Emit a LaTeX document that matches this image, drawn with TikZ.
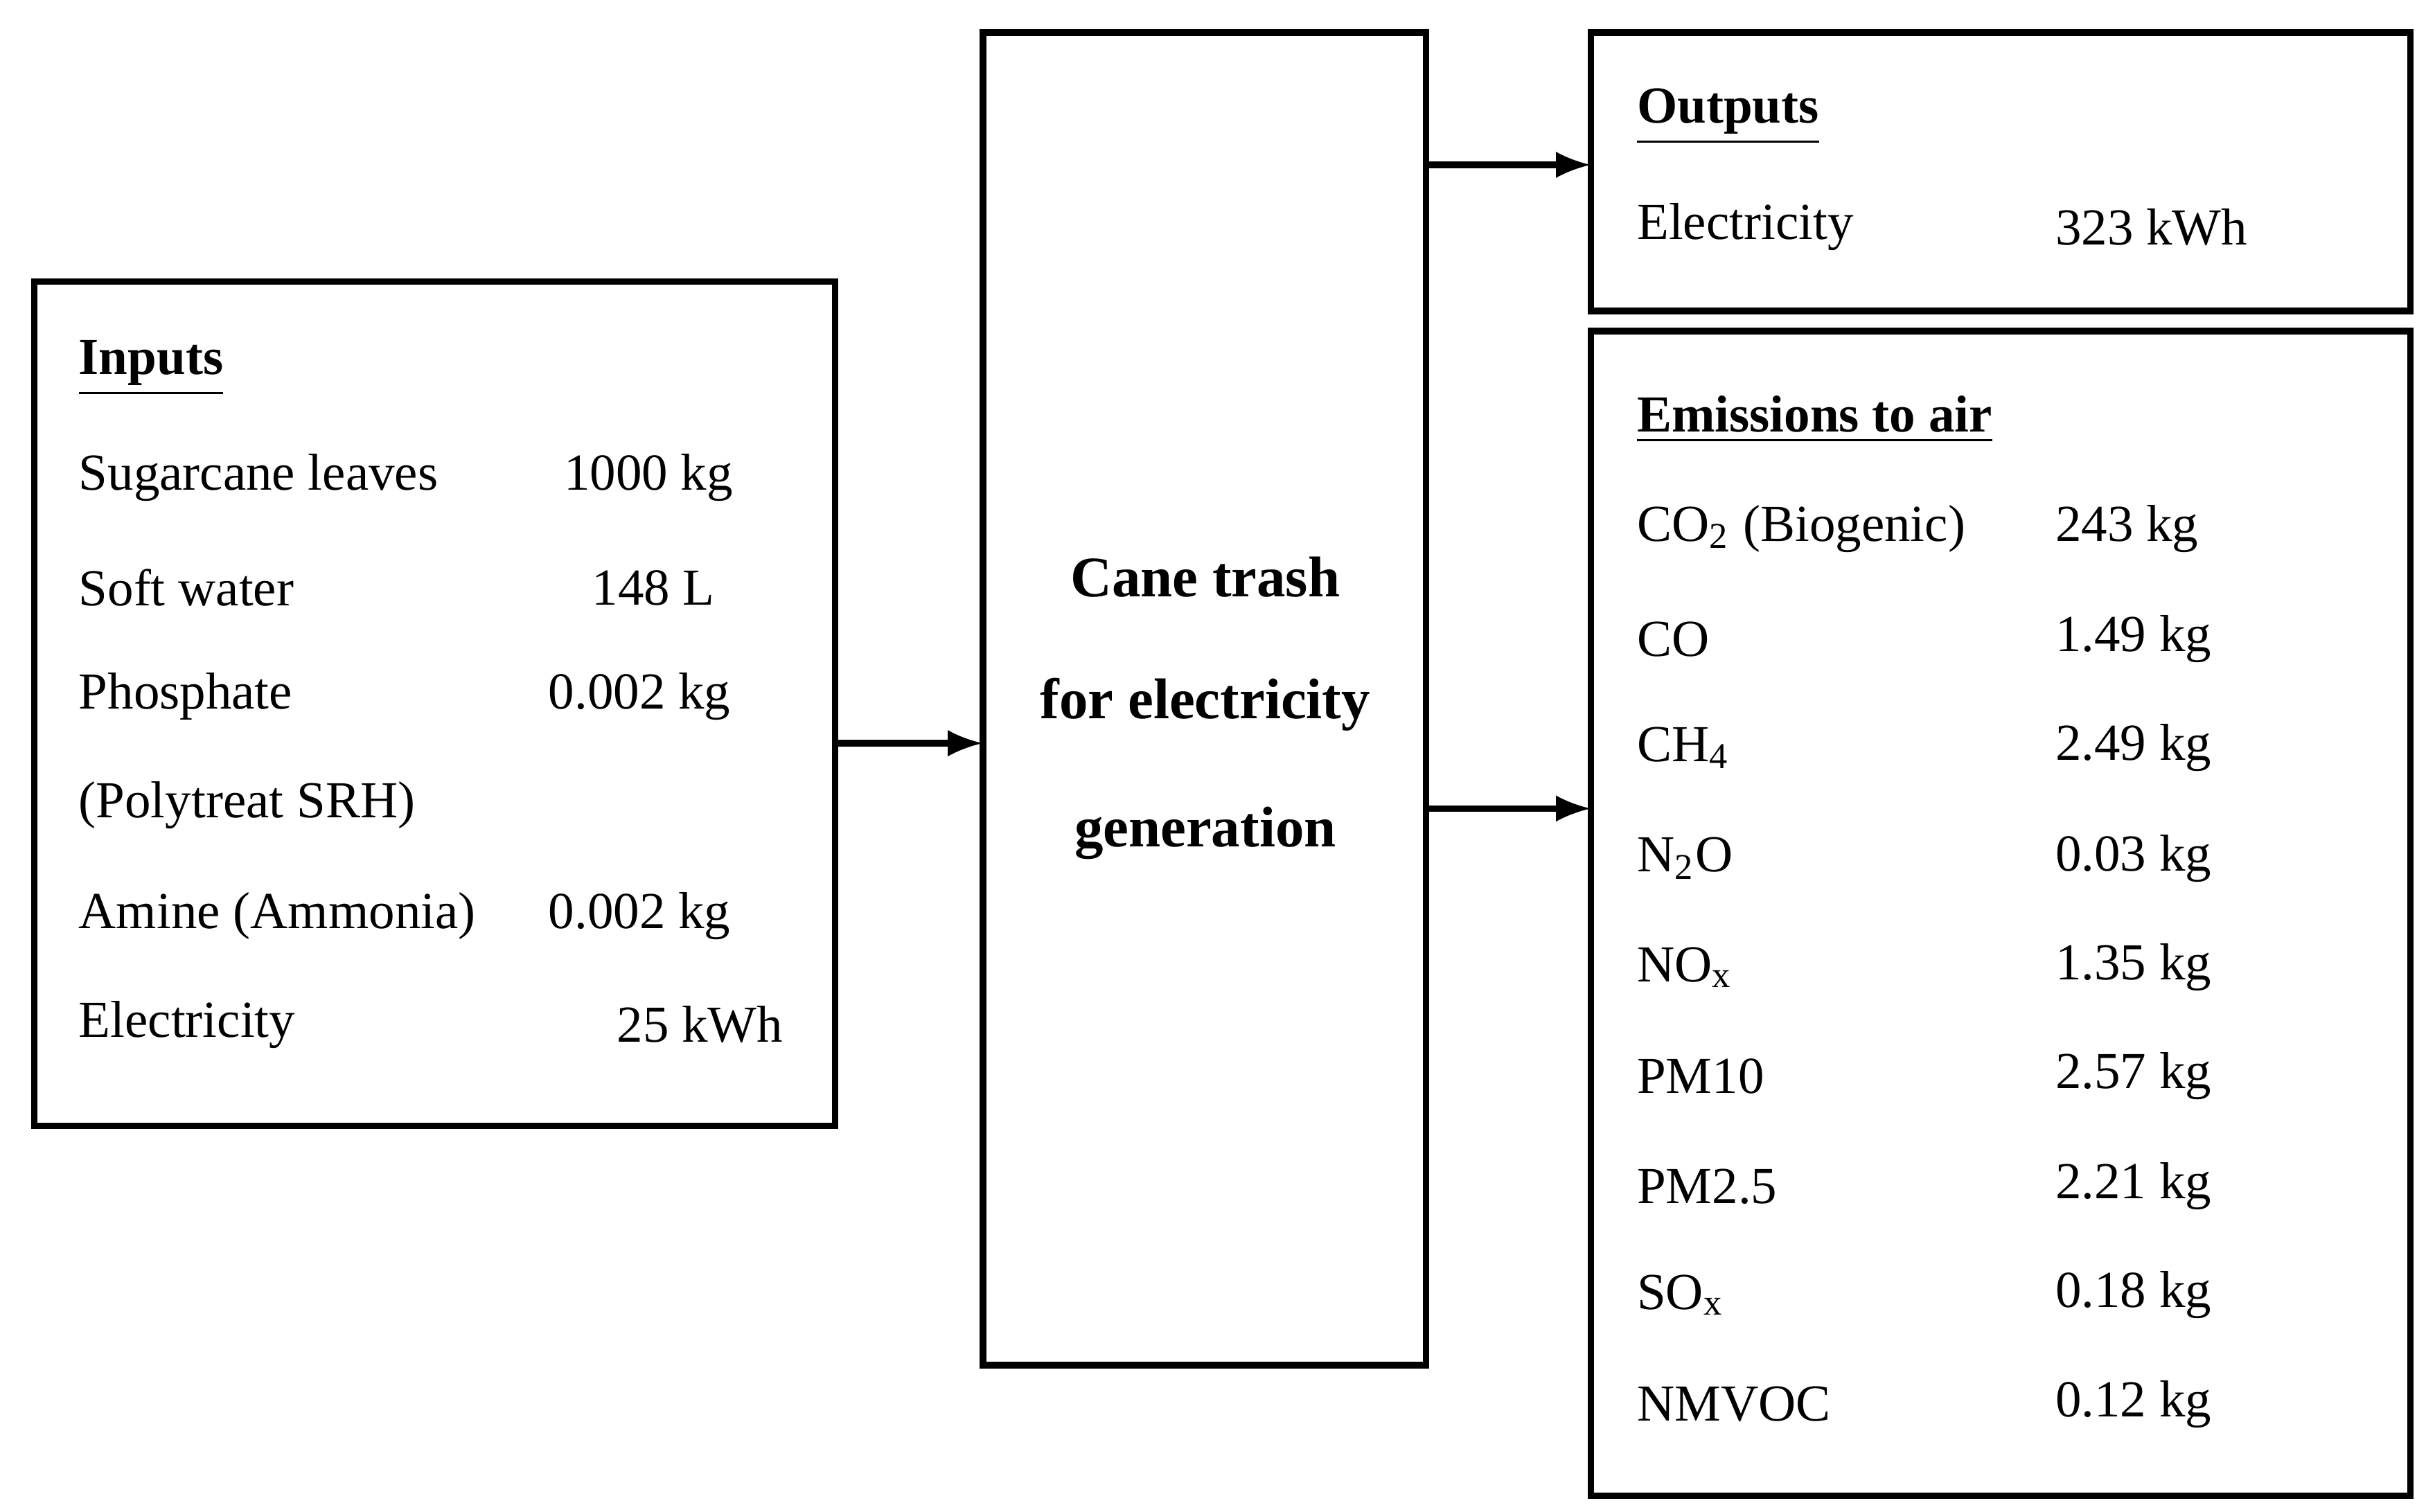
\documentclass[tikz,border=0pt]{standalone}
\usepackage{fontspec}
\setmainfont{Liberation Serif}
\begin{document}
\begin{tikzpicture}[x=0.01cm,y=-0.01cm,
  box/.style={draw,line width=1.2pt},
  arr/.style={-latex,line width=1.2pt},
  t/.style={anchor=west,inner sep=0,font=\fontsize{9.5}{11}\selectfont},
  ttl/.style={t,font=\fontsize{9.5}{11}\selectfont\bfseries},
  ctr/.style={inner sep=0,font=\fontsize{10.5}{12}\selectfont\bfseries}]
\useasboundingbox (0,0) rectangle (1560,972);
\draw[box] (22,181) rectangle (537,724);
\draw[box] (632,21) rectangle (917,878);
\draw[box] (1023,21) rectangle (1550,200);
\draw[box] (1023,213) rectangle (1550,962);
\coordinate (iR) at (537,478); \coordinate (cL) at (632,478);
\coordinate (c1) at (917,106); \coordinate (o1) at (1023,106);
\coordinate (c2) at (917,520); \coordinate (e1) at (1023,520);
\draw[arr] (iR) -- (cL);
\draw[arr] (c1) -- (o1);
\draw[arr] (c2) -- (e1);
% inputs
\node[ttl] (in) at (50,237) {\underline{Inputs}};
\node[t] (i1) at (50,307) {Sugarcane leaves}; \node[t] (v1) at (362,307) {1000 kg};
\node[t] (i2) at (50,378) {Soft water}; \node[t] (v2) at (380,378) {148 L};
\node[t] (i3) at (50,448) {Phosphate}; \node[t] (v3) at (352,448) {0.002 kg};
\node[t] (i4) at (50,518) {(Polytreat SRH)};
\node[t] (i5) at (50,589) {Amine (Ammonia)}; \node[t] (v5) at (352,589) {0.002 kg};
\node[t] (i6) at (50,659) {Electricity}; \node[t] (v6) at (396,659) {25 kWh};
% center
\node[ctr] (c1t) at (775,371) {Cane trash};
\node[ctr] (c2t) at (775,453) {for electricity};
\node[ctr] (c3t) at (775,536) {generation};
% outputs
\node[ttl] (out) at (1052,75) {\underline{Outputs}};
\node[t] (o1t) at (1052,146) {Electricity}; \node[t] (o1v) at (1321,146) {323 kWh};
% emissions
\node[ttl] (em) at (1052,270) {\underline{Emissions to air}};
\node[t] (e1t) at (1052,340) {CO\textsubscript{2} (Biogenic)}; \node[t] (e1v) at (1321,340) {243 kg};
\node[t] (e2t) at (1052,411) {CO}; \node[t] (e2v) at (1321,411) {1.49 kg};
\node[t] (e3t) at (1052,481) {CH\textsubscript{4}}; \node[t] (e3v) at (1321,481) {2.49 kg};
\node[t] (e4t) at (1052,552) {N\textsubscript{2}O}; \node[t] (e4v) at (1321,552) {0.03 kg};
\node[t] (e5t) at (1052,622) {NO\textsubscript{x}}; \node[t] (e5v) at (1321,622) {1.35 kg};
\node[t] (e6t) at (1052,692) {PM10}; \node[t] (e6v) at (1321,692) {2.57 kg};
\node[t] (e7t) at (1052,763) {PM2.5}; \node[t] (e7v) at (1321,763) {2.21 kg};
\node[t] (e8t) at (1052,833) {SO\textsubscript{x}}; \node[t] (e8v) at (1321,833) {0.18 kg};
\node[t] (e9t) at (1052,903) {NMVOC}; \node[t] (e9v) at (1321,903) {0.12 kg};
\end{tikzpicture}
\end{document}
